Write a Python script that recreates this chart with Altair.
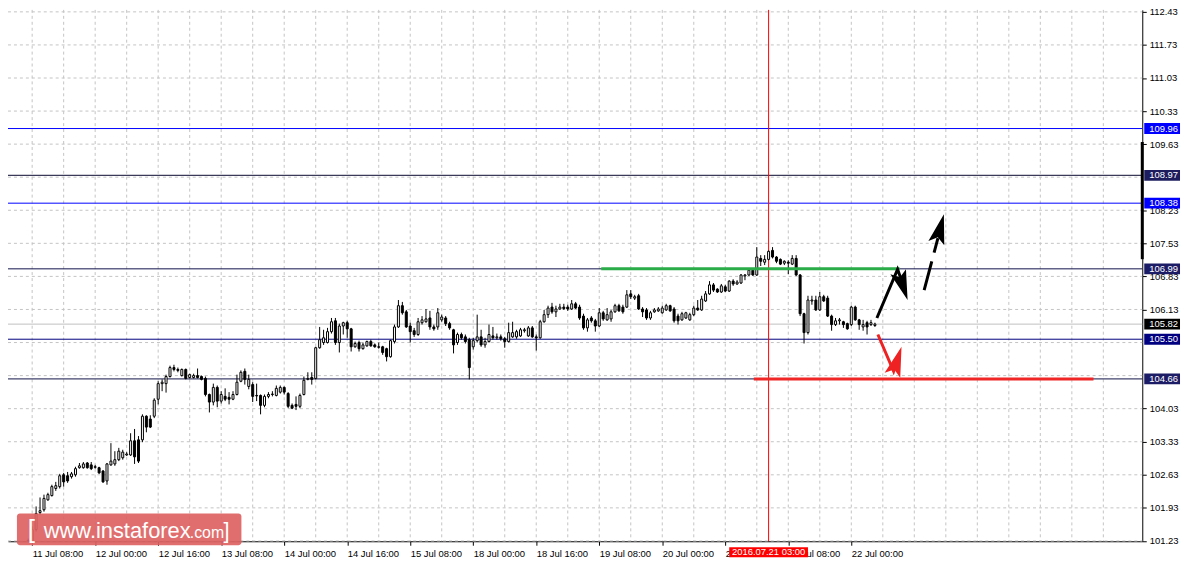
import json
import altair as alt
import pandas as pd

# ---------------- data ----------------
first_bar = -1  # bar index of first candle; bar 0 = 11 Jul 08:00 (H1)
opens = [101.22, 101.22, 101.47, 101.83, 101.89, 102.10, 102.19, 102.34, 102.38, 102.63, 102.61, 102.59, 102.63, 102.78, 102.78, 102.88, 102.84, 102.80, 102.78, 102.71, 102.50, 102.84, 102.86, 102.95, 102.99, 103.05, 103.05, 103.35, 103.37, 103.37, 103.87, 103.81, 103.87, 104.23, 104.56, 104.56, 104.71, 104.90, 104.86, 104.73, 104.86, 104.69, 104.69, 104.73, 104.71, 104.67, 104.33, 104.17, 104.48, 104.19, 104.29, 104.27, 104.23, 104.33, 104.61, 104.82, 104.50, 104.54, 104.31, 104.31, 104.10, 104.29, 104.33, 104.31, 104.38, 104.48, 104.35, 104.10, 104.12, 104.08, 104.33, 104.65, 104.69, 104.67, 105.32, 105.43, 105.43, 105.66, 105.89, 105.43, 105.78, 105.85, 105.72, 105.34, 105.43, 105.30, 105.36, 105.45, 105.38, 105.34, 105.34, 105.30, 105.13, 105.45, 105.76, 106.21, 106.08, 105.78, 105.68, 105.60, 105.85, 105.87, 105.95, 105.76, 105.76, 105.91, 105.95, 105.83, 105.70, 105.43, 105.60, 105.55, 105.49, 105.34, 105.47, 105.55, 105.38, 105.45, 105.57, 105.53, 105.55, 105.51, 105.45, 105.55, 105.55, 105.57, 105.68, 105.57, 105.74, 105.55, 105.53, 105.87, 106.02, 106.18, 106.08, 106.14, 106.18, 106.18, 106.14, 106.25, 106.18, 105.99, 105.74, 105.95, 105.89, 105.78, 106.06, 105.91, 105.93, 106.08, 106.21, 106.18, 106.18, 106.46, 106.37, 106.42, 106.14, 106.12, 105.95, 106.08, 106.10, 106.06, 106.12, 106.21, 106.14, 105.99, 105.91, 105.95, 105.91, 106.02, 106.16, 106.12, 106.31, 106.46, 106.65, 106.56, 106.50, 106.61, 106.52, 106.73, 106.67, 106.69, 106.84, 106.86, 106.96, 106.86, 107.21, 107.13, 107.19, 107.38, 107.24, 107.19, 107.11, 107.13, 107.09, 107.21, 106.86, 106.04, 105.64, 106.31, 106.33, 106.12, 106.40, 106.37, 105.99, 105.81, 105.89, 105.87, 105.83, 105.81, 106.18, 105.91, 105.76, 105.85, 105.81, 105.79]
highs = [101.28, 101.54, 101.96, 102.15, 102.21, 102.25, 102.42, 102.48, 102.65, 102.67, 102.69, 102.69, 102.80, 102.88, 102.90, 102.90, 102.90, 102.84, 102.80, 102.73, 102.88, 103.30, 103.13, 103.20, 103.16, 103.11, 103.51, 103.60, 103.45, 103.91, 103.89, 103.89, 104.25, 104.61, 104.65, 104.75, 104.94, 104.96, 104.90, 104.88, 104.88, 104.77, 104.77, 104.88, 104.73, 104.71, 104.35, 104.56, 104.52, 104.40, 104.46, 104.38, 104.40, 104.75, 104.84, 104.88, 104.75, 104.59, 104.56, 104.33, 104.33, 104.38, 104.40, 104.52, 104.52, 104.50, 104.38, 104.14, 104.29, 104.35, 104.71, 104.80, 104.80, 105.34, 105.76, 105.70, 105.74, 105.95, 105.95, 105.83, 105.87, 105.89, 105.74, 105.45, 105.47, 105.43, 105.47, 105.49, 105.41, 105.43, 105.36, 105.32, 105.49, 105.81, 106.33, 106.29, 106.12, 105.85, 105.74, 105.95, 105.99, 106.14, 106.10, 105.81, 106.16, 106.02, 105.99, 105.87, 105.72, 105.64, 105.64, 105.60, 105.53, 105.53, 106.02, 105.70, 105.53, 105.81, 105.76, 105.62, 105.60, 105.55, 105.85, 105.87, 105.70, 105.74, 105.74, 105.78, 105.78, 105.60, 105.91, 106.12, 106.21, 106.27, 106.21, 106.25, 106.25, 106.23, 106.33, 106.29, 106.23, 106.04, 105.95, 105.99, 105.93, 106.16, 106.10, 106.16, 106.12, 106.25, 106.25, 106.23, 106.54, 106.54, 106.44, 106.46, 106.18, 106.16, 106.10, 106.16, 106.18, 106.21, 106.25, 106.23, 106.18, 106.04, 106.08, 106.08, 106.06, 106.21, 106.33, 106.42, 106.52, 106.73, 106.69, 106.58, 106.67, 106.65, 106.75, 106.77, 106.75, 106.88, 106.88, 107.00, 106.98, 107.45, 107.28, 107.28, 107.38, 107.45, 107.26, 107.21, 107.17, 107.17, 107.28, 107.28, 106.88, 106.06, 106.42, 106.42, 106.42, 106.50, 106.44, 106.42, 106.02, 105.95, 105.95, 105.89, 105.85, 106.21, 106.21, 105.93, 105.91, 105.89, 105.91, 105.85]
lows = [101.18, 101.18, 101.43, 101.79, 101.85, 102.08, 102.17, 102.29, 102.34, 102.38, 102.46, 102.55, 102.59, 102.76, 102.76, 102.76, 102.73, 102.76, 102.65, 102.46, 102.42, 102.82, 102.82, 102.92, 102.95, 103.03, 103.03, 102.86, 102.88, 103.32, 103.53, 103.62, 103.83, 104.12, 104.40, 104.37, 104.69, 104.82, 104.80, 104.71, 104.65, 104.67, 104.67, 104.67, 104.63, 104.29, 103.95, 104.10, 104.06, 104.14, 104.19, 104.12, 104.21, 104.31, 104.59, 104.54, 104.44, 104.17, 104.19, 103.91, 104.06, 104.25, 104.29, 104.29, 104.35, 104.33, 104.04, 104.02, 104.00, 104.04, 104.31, 104.63, 104.54, 104.65, 105.30, 105.38, 105.41, 105.62, 105.38, 105.22, 105.60, 105.53, 105.24, 105.32, 105.24, 105.28, 105.34, 105.34, 105.32, 105.30, 105.17, 105.03, 105.11, 105.41, 105.74, 106.02, 105.74, 105.43, 105.55, 105.57, 105.81, 105.85, 105.70, 105.68, 105.70, 105.87, 105.78, 105.70, 105.20, 105.38, 105.49, 105.41, 104.65, 105.28, 105.43, 105.34, 105.32, 105.43, 105.49, 105.49, 105.47, 105.32, 105.43, 105.53, 105.51, 105.55, 105.64, 105.55, 105.53, 105.26, 105.51, 105.85, 105.95, 106.04, 105.97, 106.12, 106.12, 106.10, 106.12, 106.14, 105.91, 105.70, 105.66, 105.85, 105.66, 105.76, 105.89, 105.89, 105.87, 106.06, 106.08, 106.04, 106.16, 106.35, 106.33, 106.12, 105.97, 105.91, 105.91, 106.06, 106.08, 106.04, 106.10, 106.08, 105.85, 105.81, 105.89, 105.93, 105.89, 105.99, 106.10, 106.10, 106.29, 106.44, 106.50, 106.48, 106.48, 106.50, 106.50, 106.63, 106.65, 106.67, 106.75, 106.84, 106.84, 106.84, 107.05, 107.07, 107.17, 107.21, 107.11, 107.07, 107.07, 106.88, 107.07, 106.84, 105.99, 105.41, 105.60, 106.23, 106.10, 106.10, 106.29, 105.97, 105.68, 105.78, 105.81, 105.74, 105.70, 105.78, 105.89, 105.70, 105.68, 105.60, 105.78, 105.76]
closes = [101.24, 101.47, 101.81, 101.87, 102.13, 102.21, 102.38, 102.40, 102.61, 102.48, 102.50, 102.65, 102.76, 102.82, 102.86, 102.78, 102.76, 102.79, 102.67, 102.48, 102.86, 102.92, 102.95, 103.13, 103.11, 103.07, 103.35, 103.01, 102.92, 103.87, 103.64, 103.64, 104.21, 104.56, 104.59, 104.71, 104.90, 104.86, 104.84, 104.86, 104.67, 104.75, 104.73, 104.69, 104.65, 104.33, 104.17, 104.48, 104.19, 104.33, 104.23, 104.23, 104.33, 104.59, 104.80, 104.65, 104.65, 104.29, 104.30, 104.10, 104.29, 104.33, 104.34, 104.46, 104.48, 104.38, 104.08, 104.04, 104.08, 104.31, 104.63, 104.67, 104.65, 105.32, 105.49, 105.53, 105.66, 105.87, 105.43, 105.78, 105.85, 105.72, 105.34, 105.41, 105.30, 105.38, 105.45, 105.36, 105.34, 105.33, 105.22, 105.13, 105.47, 105.76, 106.21, 106.06, 105.76, 105.66, 105.60, 105.87, 105.91, 105.93, 105.76, 105.72, 106.06, 105.97, 105.83, 105.74, 105.38, 105.60, 105.53, 105.45, 104.90, 105.47, 105.55, 105.38, 105.45, 105.60, 105.53, 105.55, 105.51, 105.45, 105.64, 105.64, 105.66, 105.70, 105.70, 105.74, 105.55, 105.53, 105.87, 106.02, 106.16, 106.08, 106.14, 106.18, 106.15, 106.14, 106.25, 106.16, 105.95, 105.74, 105.91, 105.89, 105.78, 106.06, 105.93, 106.02, 106.08, 106.21, 106.10, 106.08, 106.44, 106.40, 106.40, 106.14, 106.08, 105.95, 106.06, 106.12, 106.14, 106.16, 106.21, 106.10, 105.89, 105.89, 106.04, 106.06, 106.02, 106.16, 106.12, 106.35, 106.46, 106.65, 106.54, 106.50, 106.63, 106.52, 106.73, 106.67, 106.71, 106.86, 106.86, 106.96, 106.86, 107.24, 107.15, 107.19, 107.36, 107.24, 107.15, 107.09, 107.15, 107.11, 107.21, 106.86, 106.04, 105.64, 106.33, 106.33, 106.12, 106.40, 106.31, 105.99, 105.81, 105.89, 105.91, 105.81, 105.72, 106.18, 105.91, 105.81, 105.81, 105.76, 105.85, 105.82]

x_label_bars = [0, 16, 32, 48, 64, 80, 96, 112, 128, 144, 160, 176, 192, 208]
x_labels = ["11 Jul 08:00", "12 Jul 00:00", "12 Jul 16:00", "13 Jul 08:00", "14 Jul 00:00",
            "14 Jul 16:00", "15 Jul 08:00", "18 Jul 00:00", "18 Jul 16:00", "19 Jul 08:00",
            "20 Jul 00:00", "20 Jul 16:00", "21 Jul 08:00", "22 Jul 00:00"]
grid_bars = [0, 8, 16, 24, 32, 40, 48, 56, 64, 72, 80, 88, 96, 104, 112, 120, 128, 136, 144,
             152, 160, 168, 176, 184, 192, 200, 208, 216, 224, 232, 240, 248, 256, 264, 272]
grid_prices = [112.43, 111.73, 111.03, 110.33, 109.63, 108.93, 108.23, 107.53, 106.83,
               106.13, 105.43, 104.73, 104.03, 103.33, 102.63, 101.93, 101.23]
# labels hidden behind the price tags in the reference are left out
price_ticks = [112.43, 111.73, 111.03, 110.33, 109.63, 108.23, 107.53, 106.83,
               106.13, 104.03, 103.33, 102.63, 101.93, 101.23]

level_prices = [109.96, 108.97, 108.38, 106.99, 105.50, 104.66]
level_colors = ["#0000ff", "#08082e", "#0000ff", "#12124e", "#000080", "#101048"]
current_price = 105.82
tag_prices = [109.96, 108.97, 108.38, 106.99, 105.82, 105.50, 104.66]
tag_colors = ["#0000ff", "#1c1c5e", "#0000ff", "#1c1c66", "#000000", "#000080", "#1c1c66"]

cross_bar = 187
cross_label = "2016.07.21 03:00"
marker_top, marker_bottom = 109.675, 107.194

green_line = {"x1": 144.5, "x2": 220.25, "y": 106.99}
red_line = {"x1": 183.25, "x2": 269.5, "y": 104.66}

up_path_i = [214.5, 219.75, 221.0]
up_path_p = [105.95, 106.98, 106.69]
dash_path_i = [226.5, 230.0]
dash_path_p = [106.54, 107.64]
down_path_i = [214.75, 218.75, 219.75]
down_path_p = [105.60, 104.82, 105.07]
head_i = [221.1, 230.55, 219.6]
head_p = [106.63, 107.84, 105.04]
head_angle = [161.6, 14.7, 17.7]
head_color = ["#000000", "#000000", "#ee2222"]

# ---------------- tables ----------------
n = len(opens)
df = pd.DataFrame({"i": list(range(first_bar, first_bar + n)), "o": opens, "h": highs,
                   "l": lows, "c": closes})
df["dir"] = ["up" if c >= o else "down" for o, c in zip(opens, closes)]

W, H = 1142, 535
FONT = "Liberation Sans"
FS = 9.5
xs = alt.Scale(domain=[-4.875, 280.625], nice=False, zero=False)
ys = alt.Scale(domain=[101.223, 112.472], nice=False, zero=False)

label_expr = f"{json.dumps(x_labels)}[indexof({json.dumps(x_label_bars)}, datum.value)]"
xaxis = alt.Axis(values=x_label_bars, labelExpr=label_expr, labelAlign="left", labelFont=FONT,
                 labelFontSize=FS, labelColor="black", tickSize=4, tickColor="black",
                 domainColor="black", labelPadding=3, grid=False, title=None,
                 labelOverlap=False, labelFlush=False)
yaxis = alt.Axis(values=price_ticks, format=".2f", orient="right", labelFont=FONT,
                 labelFontSize=FS, labelColor="black", tickSize=4, tickColor="black",
                 domainColor="black", labelPadding=3, grid=False, title=None,
                 labelOverlap=False, labelFlush=False)


def X(f):
    return alt.X(f"{f}:Q", scale=xs, axis=xaxis)


def Y(f):
    return alt.Y(f"{f}:Q", scale=ys, axis=yaxis)


base = alt.Chart(df)

vgrid = alt.Chart(pd.DataFrame({"i": grid_bars})).mark_rule(
    color="#c4c4c4", strokeDash=[3, 3], strokeWidth=1).encode(
    x=X("i"), y=alt.value(0), y2=alt.value(H))
hgrid = alt.Chart(pd.DataFrame({"p": grid_prices})).mark_rule(
    color="#c4c4c4", strokeDash=[3, 3], strokeWidth=1).encode(
    y=Y("p"), x=alt.value(0), x2=alt.value(W))

cur_line = alt.Chart(pd.DataFrame({"p": [current_price]})).mark_rule(
    color="#c0c0c0", strokeWidth=1).encode(y=Y("p"), x=alt.value(0), x2=alt.value(W))

levels = alt.Chart(pd.DataFrame({"p": level_prices, "col": level_colors})).mark_rule(
    strokeWidth=1).encode(y=Y("p"), x=alt.value(0), x2=alt.value(W),
                          color=alt.Color("col:N", scale=None))

cross = alt.Chart(pd.DataFrame({"i": [cross_bar]})).mark_rule(
    color="#ff0000", strokeWidth=1).encode(x=X("i"), y=alt.value(0), y2=alt.value(H))

wicks = base.mark_rule(color="black", strokeWidth=1, clip=True).encode(
    x=X("i"), y=Y("l"), y2="h")
bodies = base.mark_bar(size=2, stroke="black", strokeWidth=1, clip=True).encode(
    x=X("i"), y=Y("o"), y2="c",
    fill=alt.Fill("dir:N", scale=alt.Scale(domain=["up", "down"], range=["white", "black"]),
                  legend=None))

green = alt.Chart(pd.DataFrame([green_line])).mark_rule(
    color="#2aad48", strokeWidth=3).encode(x=X("x1"), x2="x2", y=Y("y"))
red = alt.Chart(pd.DataFrame([red_line])).mark_rule(
    color="#f02626", strokeWidth=3).encode(x=X("x1"), x2="x2", y=Y("y"))


def path(ii, pp, color, dash=None):
    d = pd.DataFrame({"i": ii, "p": pp, "k": list(range(len(ii)))})
    kw = dict(color=color, strokeWidth=3, clip=False, strokeCap="butt")
    if dash:
        kw["strokeDash"] = dash
    return alt.Chart(d).mark_line(**kw).encode(x=X("i"), y=Y("p"), order="k:Q")


up_arrow = path(up_path_i, up_path_p, "#000000")
dash_arrow = path(dash_path_i, dash_path_p, "#000000", [30, 9])
down_arrow = path(down_path_i, down_path_p, "#ee2222")

heads = alt.Chart(pd.DataFrame({"i": head_i, "p": head_p, "a": head_angle,
                                "col": head_color})).mark_point(
    shape="M0,-1L0.55,1L0,0.6L-0.55,1Z", filled=True, size=900, opacity=1, strokeWidth=0,
    clip=False).encode(x=X("i"), y=Y("p"), angle=alt.Angle("a:Q", scale=None),
                       color=alt.Color("col:N", scale=None))

marker = alt.Chart(pd.DataFrame({"t": [marker_top], "b": [marker_bottom]})).mark_rule(
    color="black", strokeWidth=3, clip=False).encode(x=alt.value(W), y=Y("t"), y2="b")

half = 0.115
tags_df = pd.DataFrame({"p": tag_prices, "lo": [v - half for v in tag_prices],
                        "hi": [v + half for v in tag_prices],
                        "lab": [f"{v:.2f}" for v in tag_prices], "bg": tag_colors})
tag_box = alt.Chart(tags_df).mark_rect(clip=False).encode(
    x=alt.value(W + 2), x2=alt.value(W + 38), y=Y("lo"), y2="hi",
    fill=alt.Fill("bg:N", scale=None))
tag_txt = alt.Chart(tags_df).mark_text(
    align="left", baseline="middle", font=FONT, fontSize=FS, color="white", clip=False).encode(
    x=alt.value(W + 7), y=Y("p"), text="lab:N")

time_df = pd.DataFrame({"i": [cross_bar], "x1": [cross_bar - 10], "x2": [cross_bar + 10],
                        "lab": [cross_label]})
time_box = alt.Chart(time_df).mark_rect(color="#ff0000", clip=False).encode(
    x=X("x1"), x2="x2", y=alt.value(H + 6), y2=alt.value(H + 16))
time_txt = alt.Chart(time_df).mark_text(
    align="center", baseline="middle", font=FONT, fontSize=FS, color="white", clip=False).encode(
    x=X("i"), y=alt.value(H + 11), text="lab:N")

wm_box = alt.Chart(pd.DataFrame({"k": [0]})).mark_rect(
    color="#de6262", opacity=0.92, cornerRadius=3, clip=False).encode(
    x=alt.value(9), x2=alt.value(235), y=alt.value(507), y2=alt.value(539))
wm_parts = pd.DataFrame({
    "t": ["[", "www.instaforex", ".com", "]"],
    "x": [20, 36, 183, 217],
    "fs": [26, 22, 16, 22],
})
wm_txt = []
for t, x, fs in zip(wm_parts["t"], wm_parts["x"], wm_parts["fs"]):
    wm_txt.append(alt.Chart(pd.DataFrame({"t": [t]})).mark_text(
        align="left", baseline="alphabetic", font="Liberation Sans", fontSize=int(fs),
        color="white", clip=False).encode(x=alt.value(int(x)), y=alt.value(532), text="t:N"))

chart = alt.layer(
    hgrid, vgrid, cur_line, levels, cross, wicks, bodies, green, red,
    up_arrow, dash_arrow, down_arrow, heads, marker,
    wm_box, *wm_txt, tag_box, tag_txt, time_box, time_txt,
).properties(
    width=W, height=H,
    autosize=alt.AutoSizeParams(type="none"),
    padding={"left": 0, "top": 0, "right": 40, "bottom": 22},
    background="white",
).configure_view(stroke=None)

chart.save("out.html", embed_options={"renderer": "svg", "actions": False})
